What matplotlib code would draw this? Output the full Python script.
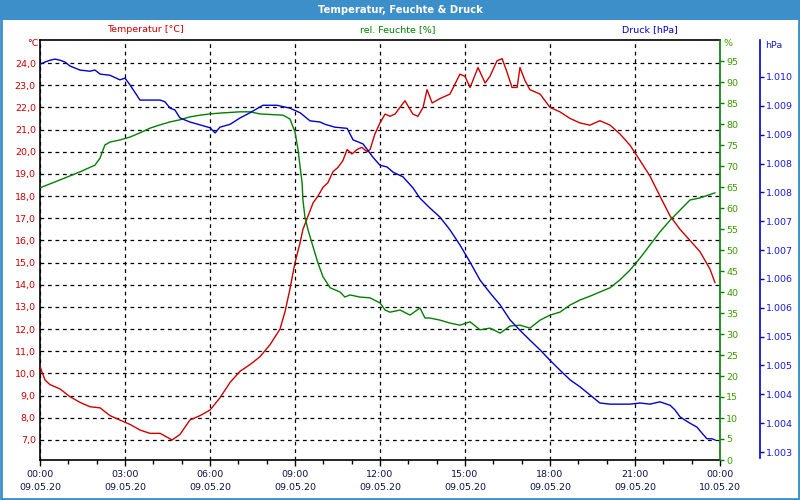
import math
import matplotlib
matplotlib.use("Agg")
import matplotlib.pyplot as plt
from matplotlib.patches import Rectangle
from matplotlib.ticker import FixedLocator, FuncFormatter, MultipleLocator

# ---------------- data ----------------
temp_h = [0, 0.18, 0.35, 0.71, 1.06, 1.41, 1.76, 2.12, 2.47, 2.82, 3.18, 3.53, 3.88, 4.24,
          4.66, 4.94, 5.29, 5.65, 6.0, 6.35, 6.71, 7.06, 7.41, 7.76, 8.12, 8.47, 8.65, 8.82,
          9.0, 9.18, 9.28, 9.46, 9.64, 9.81, 9.99, 10.16, 10.34, 10.52, 10.69, 10.84, 11.01,
          11.19, 11.36, 11.54, 11.65, 11.82, 12.0, 12.18, 12.35, 12.53, 12.88, 13.16, 13.34,
          13.52, 13.66, 13.84, 14.12, 14.47, 14.82, 15.0, 15.18, 15.46, 15.71, 15.88, 16.13,
          16.31, 16.48, 16.66, 16.84, 16.94, 17.12, 17.29, 17.65, 18.0, 18.35, 18.71, 19.06,
          19.41, 19.76, 20.12, 20.47, 20.82, 21.18, 21.53, 21.88, 22.24, 22.59, 22.94, 23.29,
          23.65, 23.82]
temp_c = [10.3, 9.7, 9.5, 9.3, 8.95, 8.7, 8.5, 8.45, 8.1, 7.9, 7.7, 7.45, 7.3, 7.3,
          7.0, 7.25, 7.9, 8.1, 8.35, 8.9, 9.6, 10.1, 10.4, 10.75, 11.3, 12.0, 12.8, 13.8,
          15.0, 15.9, 16.5, 17.1, 17.7, 18.0, 18.4, 18.6, 19.1, 19.3, 19.6, 20.1, 19.9,
          20.1, 20.2, 20.0, 20.1, 20.8, 21.3, 21.7, 21.6, 21.7, 22.3, 21.7, 21.6,
          22.0, 22.8, 22.2, 22.4, 22.6, 23.5, 23.4, 22.9, 23.8, 23.1, 23.4, 24.1,
          24.2, 23.6, 22.9, 22.9, 23.8, 23.2, 22.8, 22.6, 22.0, 21.8, 21.5, 21.3,
          21.2, 21.4, 21.2, 20.8, 20.3, 19.6, 18.9, 18.0, 17.1, 16.5, 16.0, 15.5,
          14.7, 14.1]

hum_h = [0, 0.71, 1.41, 1.94, 2.12, 2.29, 2.47, 2.82, 3.18, 3.53, 3.88, 4.24, 4.59, 4.94,
         5.29, 5.65, 6.0, 6.35, 7.06, 7.41, 7.76, 8.58, 8.82, 9.0, 9.11, 9.18, 9.25, 9.28,
         9.35, 9.46, 9.64, 9.81, 9.99, 10.24, 10.59, 10.76, 10.94, 11.29, 11.65, 12.0, 12.18,
         12.35, 12.71, 13.06, 13.41, 13.59, 13.76, 14.12, 14.47, 14.82, 15.18, 15.53, 15.88,
         16.24, 16.59, 16.94, 17.29, 17.65, 18.0, 18.35, 18.71, 19.06, 19.41, 19.76, 20.12,
         20.47, 20.82, 21.18, 21.53, 21.88, 22.24, 22.59, 22.94, 23.29, 23.82]
hum_pct = [64.8, 66.7, 68.6, 70.2, 71.9, 75.0, 75.7, 76.2, 76.9, 77.9, 79.0, 79.8, 80.5, 81.0,
           81.7, 82.1, 82.4, 82.6, 82.9, 82.9, 82.4, 82.1, 81.2, 78.1, 73.8, 69.8, 66.0, 61.9,
           57.9, 54.8, 50.7, 46.9, 43.6, 41.0, 40.0, 38.8, 39.3, 38.8, 38.6, 37.4, 35.7,
           35.2, 35.7, 34.5, 36.2, 33.8, 33.8, 33.3, 32.6, 32.1, 32.9, 31.0, 31.4,
           30.2, 31.9, 32.1, 31.4, 33.3, 34.5, 35.2, 36.9, 38.1, 39.0, 40.0, 41.0,
           42.9, 45.2, 48.1, 51.2, 54.3, 57.1, 59.5, 61.9, 62.4, 63.6]

pres_h = [0, 0.18, 0.35, 0.53, 0.71, 0.88, 1.06, 1.41, 1.76, 1.94, 2.12, 2.47, 2.82, 3.0,
          3.18, 3.53, 3.88, 4.24, 4.41, 4.59, 4.76, 4.94, 5.29, 5.65, 6.0, 6.18, 6.35, 6.71,
          7.06, 7.41, 7.87, 8.36, 8.82, 9.18, 9.53, 9.88, 10.06, 10.41, 10.84, 11.05, 11.4,
          11.75, 12.0, 12.25, 12.46, 12.81, 13.16, 13.41, 13.76, 14.12, 14.47, 14.82, 15.18,
          15.53, 15.88, 16.24, 16.59, 16.94, 17.29, 17.65, 18.0, 18.35, 18.71, 19.06, 19.41,
          19.76, 20.12, 20.47, 20.82, 21.18, 21.53, 21.88, 22.24, 22.41, 22.59, 22.87, 23.19,
          23.36, 23.54, 23.72, 23.82]
pres_hpa = [1009.72, 1009.76, 1009.79, 1009.81, 1009.79, 1009.76, 1009.69, 1009.62, 1009.60,
            1009.62, 1009.55, 1009.53, 1009.45, 1009.48, 1009.36, 1009.10, 1009.10, 1009.10,
            1009.07, 1008.96, 1008.93, 1008.79, 1008.72, 1008.67, 1008.62, 1008.53, 1008.63,
            1008.68, 1008.79, 1008.88, 1009.01, 1009.01, 1008.96, 1008.88, 1008.74, 1008.72,
            1008.68, 1008.63, 1008.61, 1008.41, 1008.34, 1008.11, 1007.97, 1007.94, 1007.85,
            1007.77, 1007.58, 1007.40, 1007.23, 1007.07, 1006.85, 1006.59, 1006.29, 1005.98,
            1005.76, 1005.55, 1005.29, 1005.11, 1004.94, 1004.77, 1004.59, 1004.42, 1004.25,
            1004.13, 1003.99, 1003.85, 1003.83, 1003.83, 1003.83, 1003.85, 1003.83, 1003.87,
            1003.81, 1003.73, 1003.61, 1003.52, 1003.43, 1003.33, 1003.23, 1003.23, 1003.21]

temp_ticks = [7, 8, 9, 10, 11, 12, 13, 14, 15, 16, 17, 18, 19, 20, 21, 22, 23, 24]
hum_ticks = list(range(0, 100, 5))
pres_ticks = [1003.0, 1003.5, 1004.0, 1004.5, 1005.0, 1005.5, 1006.0, 1006.5, 1007.0,
              1007.5, 1008.0, 1008.5, 1009.0, 1009.5]
x_ticks = [0, 3, 6, 9, 12, 15, 18, 21, 24]
x_dates = ["09.05.20"] * 8 + ["10.05.20"]

title = "Temperatur, Feuchte & Druck"

# ---------------- style ----------------
RED = "#cc0000"
GREEN = "#008000"
GREEN_TXT = "#3c9a00"
BLUE = "#0000cc"
BLUE_TXT = "#1a1ad0"
FRAME = "#3c8fc8"
XTXT = "#10104a"
FS = 6.8

plt.rcParams['font.family'] = ['DejaVu Sans']

fig = plt.figure(figsize=(8, 5), dpi=100)
fig.patch.set_facecolor("white")

# title bar + border
fig.patches.append(Rectangle((0, 0.96), 1, 0.04, transform=fig.transFigure,
                             facecolor=FRAME, edgecolor="none", zorder=0))
fig.patches.append(Rectangle((0.0015, 0.002), 0.997, 0.996, transform=fig.transFigure,
                             fill=False, edgecolor=FRAME, linewidth=2.0, zorder=5))
fig.text(0.5, 0.98, title, color="white", fontsize=7.2, fontweight="bold",
         ha="center", va="center")

ax = fig.add_axes([0.05, 0.08, 0.85, 0.84])
ax2 = ax.twinx()
ax3 = ax.twinx()

# temperature axis
ax.plot(temp_h, temp_c, color=RED, lw=1.0, zorder=3)
ax.set_xlim(0, 24)
ax.set_ylim(6.098, 25.04)
ax.yaxis.set_major_locator(FixedLocator(temp_ticks))
ax.yaxis.set_major_formatter(FuncFormatter(lambda v, p: f"{v:.1f}".replace(".", ",")))
ax.tick_params(axis="y", length=0, pad=3, labelsize=FS, labelcolor=RED)
ax.xaxis.set_major_locator(FixedLocator(x_ticks))
ax.xaxis.set_minor_locator(MultipleLocator(1))
ax.xaxis.set_major_formatter(FuncFormatter(
    lambda v, p: f"{int(v) % 24:02d}:00\n{x_dates[x_ticks.index(int(round(v)))]}"))
ax.tick_params(axis="x", which="major", length=4, width=1, pad=3, labelsize=FS,
               labelcolor=XTXT)
ax.tick_params(axis="x", which="minor", length=3, width=1)
for lab in ax.get_xticklabels():
    lab.set_linespacing(1.6)
ax.grid(True, axis="both", which="major", color="black", linestyle=(0, (3, 3)), lw=0.9)
for s in ["left", "top", "bottom"]:
    ax.spines[s].set_color("black")
    ax.spines[s].set_linewidth(1.2)
ax.spines["right"].set_visible(False)

# humidity axis
ax2.plot(hum_h, hum_pct, color=GREEN, lw=1.0, zorder=3)
ax2.set_ylim(0, 100)
ax2.yaxis.set_major_locator(FixedLocator(hum_ticks))
ax2.yaxis.set_major_formatter(FuncFormatter(lambda v, p: f"{int(v)}"))
ax2.tick_params(axis="y", length=3, width=1, color=GREEN, pad=1.5, labelsize=FS,
                labelcolor=GREEN_TXT)
ax2.spines["right"].set_color(GREEN)
ax2.spines["right"].set_linewidth(1.2)
for s in ["left", "top", "bottom"]:
    ax2.spines[s].set_visible(False)

# pressure axis
ax3.plot(pres_h, pres_hpa, color=BLUE, lw=1.0, zorder=3)
ax3.set_ylim(1002.862, 1010.141)
ax3.spines["right"].set_position(("axes", 1.0588))
ax3.spines["right"].set_color(BLUE)
ax3.spines["right"].set_linewidth(1.2)
ax3.spines["right"].set_bounds(1002.89, 1010.141)
for s in ["left", "top", "bottom"]:
    ax3.spines[s].set_visible(False)
ax3.yaxis.set_major_locator(FixedLocator(pres_ticks))
ax3.yaxis.set_major_formatter(FuncFormatter(
    lambda v, p: f"{int(math.floor(v + 0.5)):,}".replace(",", ".")))
ax3.tick_params(axis="y", length=3, width=1, color=BLUE, pad=1.5, labelsize=FS,
                labelcolor=BLUE_TXT)

# unit labels
fig.text(38 / 800, 1 - 44 / 500, "°C", color=RED, fontsize=FS, ha="right", va="center")
fig.text(724 / 800, 1 - 44 / 500, "%", color=GREEN_TXT, fontsize=FS, ha="left", va="center")
fig.text(765 / 800, 1 - 45 / 500, "hPa", color=BLUE_TXT, fontsize=FS, ha="left", va="center")

# top series captions
fig.text(145 / 800, 1 - 30 / 500, "Temperatur [°C]", color=RED, fontsize=FS,
         ha="center", va="center")
fig.text(398 / 800, 1 - 30 / 500, "rel. Feuchte [%]", color=GREEN, fontsize=FS,
         ha="center", va="center")
fig.text(650 / 800, 1 - 30 / 500, "Druck [hPa]", color=BLUE, fontsize=FS,
         ha="center", va="center")

fig.savefig("out.png", dpi=100)
